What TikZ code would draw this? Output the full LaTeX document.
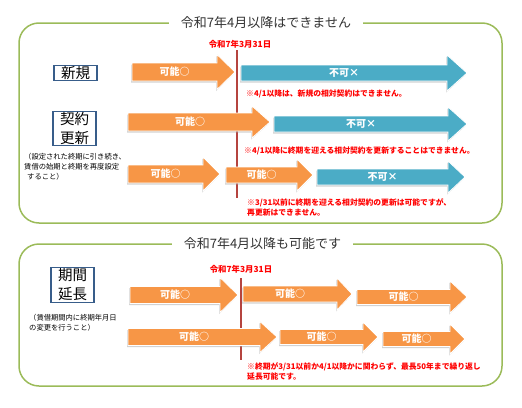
\documentclass[tikz,border=0pt]{standalone}
\usepackage{fontspec}
\setmainfont{Noto Sans CJK JP}
\usepackage{tikz}
\usetikzlibrary{shadows}

\definecolor{okorange}{HTML}{F79646}
\definecolor{ngblue}{HTML}{4BACC6}
\definecolor{framegreen}{HTML}{9BBB59}
\definecolor{boxblue}{HTML}{385D8A}
\definecolor{dateline}{HTML}{B5443F}
\definecolor{titlegray}{HTML}{333333}

\tikzset{
  frame/.style={draw=framegreen, line width=1.5pt, rounded corners=20pt},
  title/.style={fill=white, inner xsep=12pt, text=titlegray, font=\fontsize{13}{15}\selectfont},
  kind/.style={draw=boxblue, line width=1.2pt, minimum width=43pt, inner sep=1pt, align=center, font=\fontsize{14.5}{19}\selectfont},
  memo/.style={anchor=west, align=left, inner sep=0pt, font=\fontsize{7.3}{10}\selectfont},
  deadline/.style={text=red, font=\bfseries\fontsize{8.4}{9}\selectfont},
  cutline/.style={draw=dateline, line width=2pt},
  notice/.style={anchor=west, align=left, inner sep=0pt, text=red, font=\bfseries\fontsize{7.8}{10}\selectfont},
  okarrow/.style={fill=okorange, draw=white, line width=.8pt,
    drop shadow={shadow xshift=-1pt, shadow yshift=-1.5pt, fill=black!35, opacity=.5}},
  ngarrow/.style={fill=ngblue, draw=white, line width=.8pt,
    drop shadow={shadow xshift=-1pt, shadow yshift=-1.5pt, fill=black!35, opacity=.5}},
  inarrow/.style={text=white, font=\bfseries\fontsize{10}{12}\selectfont}
}

\begin{document}
\begin{tikzpicture}[x=1pt, y=-1pt]
  \useasboundingbox (0,0) rectangle (522,407);
  % after 4/2025: not possible
  \draw[frame] (19,23) rectangle (502,223);
  \node[title] (t-no) at (266,23) {令和7年4月以降はできません};
  \node[kind] (new) at (75.5,73) {新規};
  \node[kind] (renew) at (74.5,128.5) {契約\\更新};
  \node[memo] (renew-memo) at (24,167) {（設定された終期に引き続き、\\賃借の始期と終期を再度設定\\\hspace{3pt}すること）};
  \node[deadline] (d-no) at (240,44) {令和7年3月31日};
  \coordinate (cut-top) at (237,50);
  \coordinate (cut-bot) at (237,198);
  \draw[cutline] (cut-top) -- (cut-bot);

  \fill[okarrow] (132,63) -- (217,63) -- (217,54.5) -- (235,72) -- (217,89.5) -- (217,81) -- (132,81) -- cycle;
  \node[inarrow] (new-ok) at (174.5,72) {可能○};
  \fill[ngarrow] (241,65) -- (447,65) -- (447,55) -- (467,73) -- (447,91) -- (447,81) -- (241,81) -- cycle;
  \node[inarrow] (new-ng) at (344,73) {不可×};
  \node[notice] (new-note) at (246,94) {※4/1以降は、新規の相対契約はできません。};

  \fill[okarrow] (128,113) -- (252,113) -- (252,106) -- (270,122) -- (252,138) -- (252,131) -- (128,131) -- cycle;
  \node[inarrow] (ren-ok) at (190,122) {可能○};
  \fill[ngarrow] (274,116) -- (448,116) -- (448,107) -- (467,124) -- (448,141) -- (448,132) -- (274,132) -- cycle;
  \node[inarrow] (ren-ng) at (361,124) {不可×};
  \node[notice] (ren-note) at (244,151) {※4/1以降に終期を迎える相対契約を更新することはできません。};

  \fill[okarrow] (128,165) -- (203,165) -- (203,157) -- (220,174) -- (203,191) -- (203,183) -- (128,183) -- cycle;
  \node[inarrow] (re2-ok) at (165.5,174) {可能○};
  \fill[okarrow] (226,167) -- (297,167) -- (297,159) -- (313,175) -- (297,191) -- (297,183) -- (226,183) -- cycle;
  \node[inarrow] (re2-ok2) at (261.5,175) {可能○};
  \fill[ngarrow] (317,169) -- (448,169) -- (448,161) -- (465,177) -- (448,193) -- (448,185) -- (317,185) -- cycle;
  \node[inarrow] (re2-ng) at (382.5,177) {不可×};
  \node[notice] (re2-note) at (247,207) {※3/31以前に終期を迎える相対契約の更新は可能ですが、\\再更新はできません。};

  % after 4/2025: still possible
  \draw[frame] (19,244) rectangle (502,386);
  \node[title] (t-yes) at (262.5,244) {令和7年4月以降も可能です};
  \node[kind] (ext) at (72.5,285) {期間\\延長};
  \node[memo] (ext-memo) at (29,322.5) {（賃借期間内に終期年月日\\の変更を行うこと）};
  \node[deadline] (d-yes) at (241,269) {令和7年3月31日};
  \coordinate (cut2-top) at (241,278);
  \coordinate (cut2-bot) at (241,360);
  \draw[cutline] (cut2-top) -- (cut2-bot);

  \fill[okarrow] (130,286.5) -- (220,286.5) -- (220,277.5) -- (238,295) -- (220,312.5) -- (220,303.5) -- (130,303.5) -- cycle;
  \node[inarrow] (ext-a1) at (175,295) {可能○};
  \fill[okarrow] (243,286) -- (337,286) -- (337,278) -- (352,294) -- (337,310) -- (337,302) -- (243,302) -- cycle;
  \node[inarrow] (ext-a2) at (290,294) {可能○};
  \fill[okarrow] (357,289.5) -- (450,289.5) -- (450,281) -- (467,297) -- (450,313) -- (450,304.5) -- (357,304.5) -- cycle;
  \node[inarrow] (ext-a3) at (403.5,297) {可能○};

  \fill[okarrow] (128,328.5) -- (260,328.5) -- (260,321.5) -- (277,337) -- (260,352.5) -- (260,345.5) -- (128,345.5) -- cycle;
  \node[inarrow] (ext-b1) at (194,337) {可能○};
  \fill[okarrow] (280,329.5) -- (363,329.5) -- (363,322) -- (378,337) -- (363,352) -- (363,344.5) -- (280,344.5) -- cycle;
  \node[inarrow] (ext-b2) at (321.5,337) {可能○};
  \fill[okarrow] (383,331.5) -- (450,331.5) -- (450,324) -- (465,339) -- (450,354) -- (450,346.5) -- (383,346.5) -- cycle;
  \node[inarrow] (ext-b3) at (416.5,339) {可能○};
  \node[notice] (ext-note) at (247,371.5) {※終期が3/31以前か4/1以降かに関わらず、最長50年まで繰り返し\\延長可能です。};
\end{tikzpicture}
\end{document}
